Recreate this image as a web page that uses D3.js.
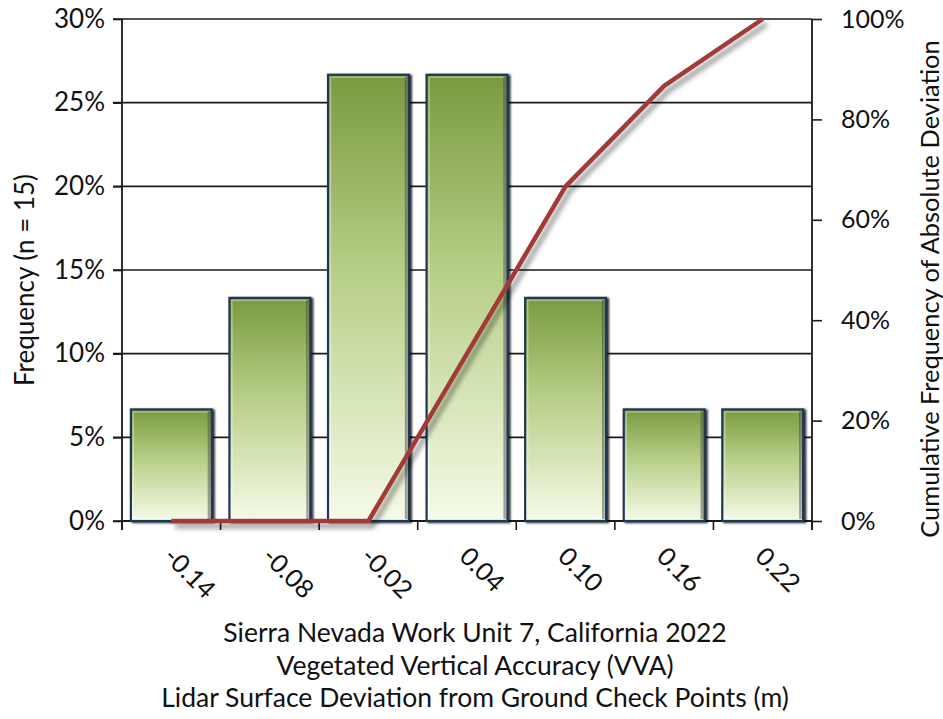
<!DOCTYPE html>
<html>
<head>
<meta charset="utf-8">
<script src="https://cdn.jsdelivr.net/npm/d3@7"></script>
<style>
  html, body { margin: 0; padding: 0; background: #fff; }
  svg { display: block; font-family: Lato, "Open Sans", sans-serif; }
</style>
</head>
<body>
<svg id="chart" width="943" height="719"></svg>
<script>
// Histogram categories (bin centers, m)
const categories = ["-0.14", "-0.08", "-0.02", "0.04", "0.10", "0.16", "0.22"];
// Frequency per bin (fraction of 15 check points)
const frequency = [1/15, 2/15, 4/15, 4/15, 2/15, 1/15, 1/15];
// Cumulative frequency of absolute deviation
const cumulative = [0, 0, 0, 5/15, 10/15, 13/15, 15/15];
// Axis tick values
const leftTicks = [0, 0.05, 0.10, 0.15, 0.20, 0.25, 0.30];
const rightTicks = [0, 0.2, 0.4, 0.6, 0.8, 1.0];
const titleLines = [
  "Sierra Nevada Work Unit 7, California 2022",
  "Vegetated Vertical Accuracy (VVA)",
  "Lidar Surface Deviation from Ground Check Points (m)"
];

const svg = d3.select("#chart");
const plot = { left: 122, right: 812, top: 19, bottom: 521 };

const x = d3.scaleBand().domain(categories)
  .range([plot.left, plot.right]).paddingInner(0.18).paddingOuter(0.09);
const yL = d3.scaleLinear().domain([0, 0.30]).range([plot.bottom, plot.top]);
const yR = d3.scaleLinear().domain([0, 1]).range([plot.bottom, plot.top]);

const defs = svg.append("defs");
const grad = defs.append("linearGradient").attr("id", "barFill")
  .attr("x1", 0).attr("y1", 0).attr("x2", 0).attr("y2", 1);
grad.append("stop").attr("offset", "0%").attr("stop-color", "#7a9a3f");
grad.append("stop").attr("offset", "45%").attr("stop-color", "#b8cf88");
grad.append("stop").attr("offset", "100%").attr("stop-color", "#f5fbe8");

const barShadow = defs.append("filter").attr("id", "barShadow")
  .attr("x", "-10%").attr("y", "-10%").attr("width", "130%").attr("height", "130%");
barShadow.append("feDropShadow").attr("dx", 2).attr("dy", 1)
  .attr("stdDeviation", 0.8).attr("flood-color", "#000").attr("flood-opacity", 0.85);

const lineShadow = defs.append("filter").attr("id", "lineShadow")
  .attr("x", "-10%").attr("y", "-10%").attr("width", "130%").attr("height", "130%");
lineShadow.append("feDropShadow").attr("dx", 4).attr("dy", 5)
  .attr("stdDeviation", 2.8).attr("flood-color", "#000").attr("flood-opacity", 0.42);

// Horizontal gridlines
svg.append("g").selectAll("line").data(leftTicks).join("line")
  .attr("x1", plot.left - 9).attr("x2", plot.right)
  .attr("y1", d => yL(d)).attr("y2", d => yL(d))
  .attr("stroke", "#1a1a1a").attr("stroke-width", 1.6);

// Left axis
const leftAxis = svg.append("g").attr("transform", `translate(${plot.left},0)`)
  .call(d3.axisLeft(yL).tickValues(leftTicks).tickFormat(d3.format(".0%")).tickSize(9).tickPadding(8));
leftAxis.select(".domain").remove();
leftAxis.selectAll(".tick line").attr("stroke", "#1a1a1a").attr("stroke-width", 1.6);
leftAxis.selectAll("text").attr("font-size", 26).attr("fill", "#111")
  .attr("font-family", "Lato, sans-serif");
svg.append("line").attr("x1", plot.left).attr("x2", plot.left)
  .attr("y1", plot.top).attr("y2", plot.bottom + 9)
  .attr("stroke", "#1a1a1a").attr("stroke-width", 1.8);

// Right axis
const rightAxis = svg.append("g").attr("transform", `translate(${plot.right},0)`)
  .call(d3.axisRight(yR).tickValues(rightTicks).tickFormat(d3.format(".0%")).tickSize(10).tickPadding(19));
rightAxis.select(".domain").remove();
rightAxis.selectAll(".tick line").attr("stroke", "#1a1a1a").attr("stroke-width", 1.6);
rightAxis.selectAll("text").attr("font-size", 25).attr("fill", "#111")
  .attr("font-family", "Lato, sans-serif");
svg.append("line").attr("x1", plot.right).attr("x2", plot.right)
  .attr("y1", plot.top).attr("y2", plot.bottom + 9)
  .attr("stroke", "#1a1a1a").attr("stroke-width", 1.8);

// Bottom axis line and bin-boundary ticks
svg.append("line").attr("x1", plot.left).attr("x2", plot.right)
  .attr("y1", plot.bottom).attr("y2", plot.bottom)
  .attr("stroke", "#1a1a1a").attr("stroke-width", 1.8);
const half = (x.step() - x.bandwidth()) / 2;
const boundaries = categories.map(c => x(c) - half).concat([x(categories[categories.length - 1]) + x.bandwidth() + half]);
svg.append("g").selectAll("line").data(boundaries).join("line")
  .attr("x1", d => d).attr("x2", d => d)
  .attr("y1", plot.bottom).attr("y2", plot.bottom + 9)
  .attr("stroke", "#1a1a1a").attr("stroke-width", 1.6);

// Bars
const bars = svg.append("g");
bars.selectAll("rect.bar").data(categories).join("rect").attr("class", "bar")
  .attr("x", d => x(d)).attr("width", x.bandwidth())
  .attr("y", (d, i) => yL(frequency[i]))
  .attr("height", (d, i) => yL(0) - yL(frequency[i]))
  .attr("fill", "url(#barFill)")
  .attr("stroke", "#1f3756").attr("stroke-width", 2.2)
  .attr("filter", "url(#barShadow)");
// Inner bevel highlight
bars.selectAll("rect.bevel").data(categories).join("rect").attr("class", "bevel")
  .attr("x", d => x(d) + 2.5).attr("width", x.bandwidth() - 5)
  .attr("y", (d, i) => yL(frequency[i]) + 2.5)
  .attr("height", (d, i) => yL(0) - yL(frequency[i]) - 5)
  .attr("fill", "none")
  .attr("stroke", "rgba(255,255,255,0.35)").attr("stroke-width", 1.5);
bars.selectAll("rect.bevelDark").data(categories).join("rect").attr("class", "bevelDark")
  .attr("x", d => x(d) + x.bandwidth() - 4).attr("width", 2.5)
  .attr("y", (d, i) => yL(frequency[i]) + 2)
  .attr("height", (d, i) => yL(0) - yL(frequency[i]) - 4)
  .attr("fill", "rgba(0,0,0,0.35)");

// Cumulative line
const line = d3.line()
  .x((d, i) => x(categories[i]) + x.bandwidth() / 2)
  .y(d => yR(d));
svg.append("path").datum(cumulative)
  .attr("d", line)
  .attr("fill", "none")
  .attr("stroke", "#a03b39").attr("stroke-width", 4.5)
  .attr("stroke-linejoin", "round").attr("stroke-linecap", "butt")
  .attr("filter", "url(#lineShadow)");

// X tick labels, rotated
svg.append("g").selectAll("text").data(categories).join("text")
  .attr("transform", d => `translate(${x(d) + x.bandwidth() / 2 - 9},${plot.bottom + 37}) rotate(45)`)
  .attr("font-size", 25.5).attr("fill", "#111")
  .text(d => d);

// Axis titles
svg.append("text")
  .attr("transform", `translate(34,280) rotate(-90)`)
  .attr("text-anchor", "middle").attr("font-size", 26).attr("fill", "#111")
  .text("Frequency (n = 15)");
svg.append("text")
  .attr("transform", `translate(939,289) rotate(-90)`)
  .attr("text-anchor", "middle").attr("font-size", 25.4).attr("fill", "#111")
  .text("Cumulative Frequency of Absolute Deviation");
svg.append("g").selectAll("text").data(titleLines).join("text")
  .attr("x", 475).attr("y", (d, i) => 642 + i * 32.5)
  .attr("text-anchor", "middle").attr("font-size", 26.5).attr("fill", "#111")
  .text(d => d);
</script>
</body>
</html>
